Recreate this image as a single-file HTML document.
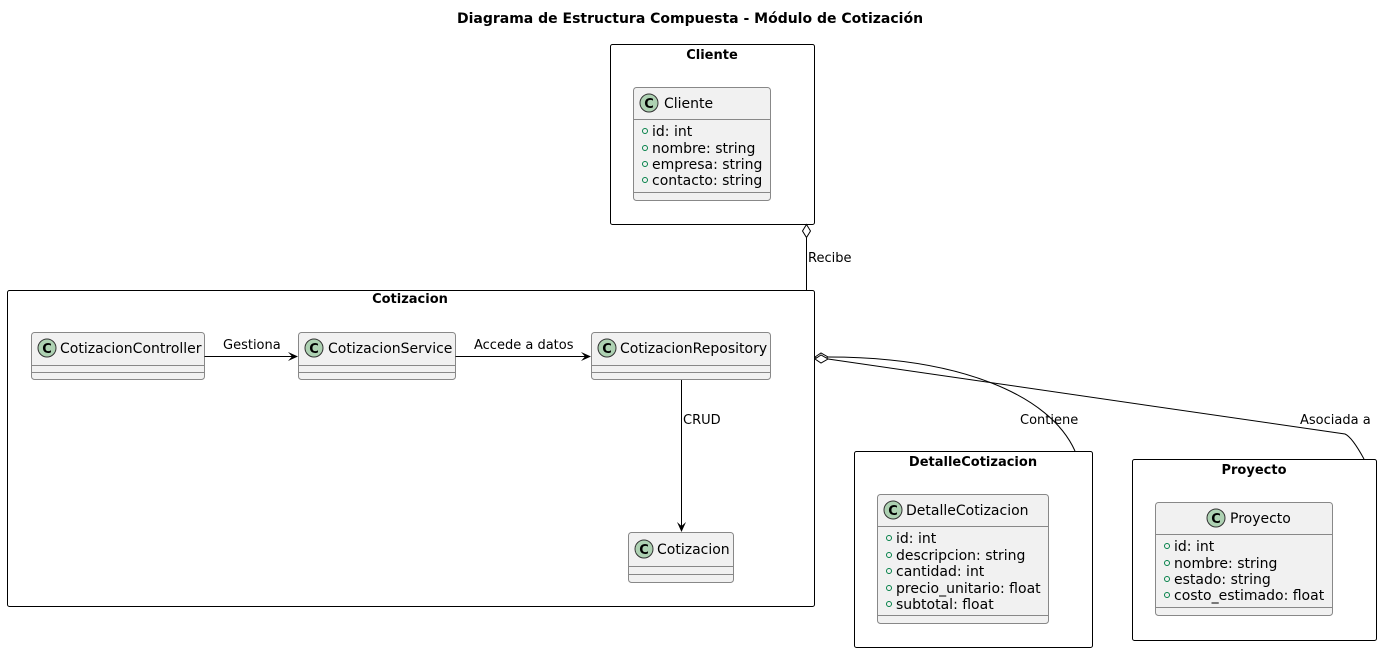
<!DOCTYPE html>
<html><head><meta charset="utf-8"><style>
html,body{margin:0;padding:0;background:#fff}
svg{display:block;font-family:"DejaVu Sans","Liberation Sans",sans-serif}
.pk{fill:#fff;stroke:#000;stroke-width:1}
.cl{fill:#f1f1f1;stroke:#888;stroke-width:1}
.dv{stroke:#888;stroke-width:1}
.pt{font-weight:bold;font-size:13px;text-anchor:middle}
.cn{font-size:14px}
.at{font-size:14px}
.lb{font-size:13px}
.ci{fill:#add1b2;stroke:#333;stroke-width:1}
.ct{font-weight:bold;font-size:13px;text-anchor:middle}
.op{fill:none;stroke:#038048;stroke-width:1}
.ln{fill:none;stroke:#000;stroke-width:1}
</style></head><body>
<svg width="1380" height="652" viewBox="0 0 1380 652" xmlns="http://www.w3.org/2000/svg">
<text x="690" y="23" class="pt" style="font-size:14px">Diagrama de Estructura Compuesta - Módulo de Cotización</text>

<!-- Cliente package -->
<rect x="610.5" y="44.5" width="204" height="180" rx="2" class="pk"/>
<text x="712" y="59" class="pt">Cliente</text>
<rect x="633.5" y="87.5" width="137" height="113" rx="3" class="cl"/>
<line x1="633.5" y1="119.5" x2="770.5" y2="119.5" class="dv"/>
<line x1="633.5" y1="192.5" x2="770.5" y2="192.5" class="dv"/>
<circle cx="649" cy="103" r="9" class="ci"/><text x="649" y="108" class="ct">C</text>
<text x="664" y="108" class="cn">Cliente</text>
<circle cx="645" cy="131" r="2.5" class="op"/><text x="652" y="136" class="at">id: int</text>
<circle cx="645" cy="148" r="2.5" class="op"/><text x="652" y="153" class="at">nombre: string</text>
<circle cx="645" cy="164" r="2.5" class="op"/><text x="652" y="169" class="at">empresa: string</text>
<circle cx="645" cy="180" r="2.5" class="op"/><text x="652" y="185" class="at">contacto: string</text>

<!-- Recibe -->
<line x1="806.5" y1="238" x2="806.5" y2="290" class="ln"/>
<path d="M806.5,224.5 L810.5,231 L806.5,237.5 L802.5,231 Z" fill="#fff" stroke="#000"/>
<text x="808" y="262" class="lb">Recibe</text>

<!-- Cotizacion package -->
<rect x="7.5" y="290.5" width="807" height="316" rx="2" class="pk"/>
<text x="410" y="303" class="pt">Cotizacion</text>

<rect x="31.5" y="332.5" width="173" height="47" rx="3" class="cl"/>
<line x1="31.5" y1="365.5" x2="204.5" y2="365.5" class="dv"/><line x1="31.5" y1="372.5" x2="204.5" y2="372.5" class="dv"/>
<circle cx="47" cy="348" r="9" class="ci"/><text x="47" y="353" class="ct">C</text>
<text x="60" y="353" class="cn">CotizacionController</text>

<rect x="298.5" y="332.5" width="157" height="47" rx="3" class="cl"/>
<line x1="298.5" y1="365.5" x2="455.5" y2="365.5" class="dv"/><line x1="298.5" y1="372.5" x2="455.5" y2="372.5" class="dv"/>
<circle cx="314" cy="348" r="9" class="ci"/><text x="314" y="353" class="ct">C</text>
<text x="328" y="353" class="cn">CotizacionService</text>

<rect x="591.5" y="332.5" width="179" height="47" rx="3" class="cl"/>
<line x1="591.5" y1="365.5" x2="770.5" y2="365.5" class="dv"/><line x1="591.5" y1="372.5" x2="770.5" y2="372.5" class="dv"/>
<circle cx="607" cy="348" r="9" class="ci"/><text x="607" y="353" class="ct">C</text>
<text x="620" y="353" class="cn">CotizacionRepository</text>

<rect x="628.5" y="532.5" width="105" height="50" rx="3" class="cl"/>
<line x1="628.5" y1="566.5" x2="733.5" y2="566.5" class="dv"/><line x1="628.5" y1="574.5" x2="733.5" y2="574.5" class="dv"/>
<circle cx="644" cy="549" r="9" class="ci"/><text x="644" y="554" class="ct">C</text>
<text x="657" y="554" class="cn">Cotizacion</text>

<!-- arrows -->
<line x1="204.5" y1="356.5" x2="296" y2="356.5" class="ln"/>
<path d="M298,356.5 L288,352 L292,356.5 L288,361 Z" fill="#000"/>
<text x="223" y="349" class="lb">Gestiona</text>
<line x1="455.5" y1="356.5" x2="589" y2="356.5" class="ln"/>
<path d="M591,356.5 L581,352 L585,356.5 L581,361 Z" fill="#000"/>
<text x="474" y="349" class="lb">Accede a datos</text>
<line x1="681.5" y1="380" x2="681.5" y2="530" class="ln"/>
<path d="M681.5,532 L677,522 L681.5,526 L686,522 Z" fill="#000"/>
<text x="683" y="424" class="lb">CRUD</text>

<!-- aggregation lines -->
<path d="M828,357 C960,357 1050,395 1075,451" class="ln"/>
<path d="M828,359 L1345,434 Q1352,437 1364,459" class="ln"/>
<path d="M815,357 L821,353 L828,357 L821,361 Z" fill="#fff" stroke="#000"/>
<path d="M815,359 L821,355 L828,359 L821,363 Z" fill="#fff" stroke="#000"/>
<text x="1020" y="424" class="lb">Contiene</text>
<text x="1300" y="424" class="lb">Asociada a</text>

<!-- DetalleCotizacion -->
<rect x="854.5" y="451.5" width="238" height="196" rx="2" class="pk"/>
<text x="973" y="466" class="pt">DetalleCotizacion</text>
<rect x="877.5" y="494.5" width="171" height="129" rx="3" class="cl"/>
<line x1="877.5" y1="526.5" x2="1048.5" y2="526.5" class="dv"/>
<line x1="877.5" y1="615.5" x2="1048.5" y2="615.5" class="dv"/>
<circle cx="893" cy="510" r="9" class="ci"/><text x="893" y="515" class="ct">C</text>
<text x="906" y="515" class="cn">DetalleCotizacion</text>
<circle cx="889" cy="538" r="2.5" class="op"/><text x="896" y="543" class="at">id: int</text>
<circle cx="889" cy="555" r="2.5" class="op"/><text x="896" y="560" class="at">descripcion: string</text>
<circle cx="889" cy="571" r="2.5" class="op"/><text x="896" y="576" class="at">cantidad: int</text>
<circle cx="889" cy="588" r="2.5" class="op"/><text x="896" y="593" class="at">precio_unitario: float</text>
<circle cx="889" cy="604" r="2.5" class="op"/><text x="896" y="609" class="at">subtotal: float</text>

<!-- Proyecto -->
<rect x="1132.5" y="459.5" width="244" height="181" rx="2" class="pk"/>
<text x="1254" y="474" class="pt">Proyecto</text>
<rect x="1155.5" y="502.5" width="177" height="113" rx="3" class="cl"/>
<line x1="1155.5" y1="534.5" x2="1332.5" y2="534.5" class="dv"/>
<line x1="1155.5" y1="607.5" x2="1332.5" y2="607.5" class="dv"/>
<circle cx="1216" cy="518" r="9" class="ci"/><text x="1216" y="523" class="ct">C</text>
<text x="1230" y="523" class="cn">Proyecto</text>
<circle cx="1167" cy="546" r="2.5" class="op"/><text x="1174" y="551" class="at">id: int</text>
<circle cx="1167" cy="563" r="2.5" class="op"/><text x="1174" y="568" class="at">nombre: string</text>
<circle cx="1167" cy="579" r="2.5" class="op"/><text x="1174" y="584" class="at">estado: string</text>
<circle cx="1167" cy="595" r="2.5" class="op"/><text x="1174" y="600" class="at">costo_estimado: float</text>
</svg>
</body></html>
